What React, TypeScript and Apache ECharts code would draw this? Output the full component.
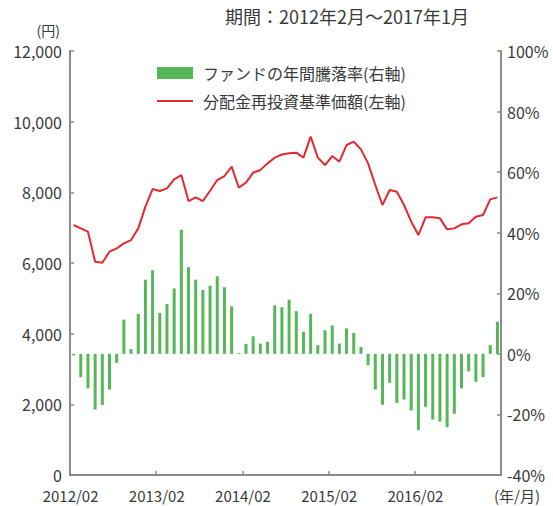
import React, { useEffect, useRef } from "react";
import * as echarts from "echarts";

const months: string[] = [
  "2012/02","2012/03","2012/04","2012/05","2012/06","2012/07","2012/08","2012/09","2012/10","2012/11","2012/12","2013/01",
  "2013/02","2013/03","2013/04","2013/05","2013/06","2013/07","2013/08","2013/09","2013/10","2013/11","2013/12","2014/01",
  "2014/02","2014/03","2014/04","2014/05","2014/06","2014/07","2014/08","2014/09","2014/10","2014/11","2014/12","2015/01",
  "2015/02","2015/03","2015/04","2015/05","2015/06","2015/07","2015/08","2015/09","2015/10","2015/11","2015/12","2016/01",
  "2016/02","2016/03","2016/04","2016/05","2016/06","2016/07","2016/08","2016/09","2016/10","2016/11","2016/12","2017/01",
];

// ファンドの年間騰落率 (%), right axis
const annualReturn: number[] = [
  -0.5, -7.7, -11.4, -18.4, -16.9, -11.8, -3.0, 11.3, 1.6, 13.2, 24.5, 27.6,
  13.5, 16.5, 21.6, 41.0, 28.6, 24.5, 21.1, 22.5, 25.6, 22.0, 15.7, 0.3,
  3.3, 5.8, 3.4, 4.0, 16.0, 15.4, 17.9, 14.1, 7.3, 13.2, 2.9, 7.8,
  9.4, 3.4, 8.4, 6.9, 2.3, -3.7, -11.8, -16.8, -9.6, -16.2, -15.1, -18.7,
  -25.2, -17.5, -21.7, -22.4, -24.2, -19.8, -11.4, -5.8, -9.2, -7.7, 2.9, 10.6,
];

// 分配金再投資基準価額 (円), left axis
const navReinvested: number[] = [
  7075, 6980, 6886, 6037, 6008, 6320, 6415, 6556, 6650, 6980, 7594, 8094,
  8037, 8113, 8368, 8490, 7754, 7858, 7754, 8046, 8349, 8462, 8726, 8132,
  8273, 8556, 8632, 8820, 8981, 9070, 9103, 9122, 8981, 9575, 8981, 8773,
  9028, 8867, 9339, 9433, 9216, 8820, 8207, 7641, 8066, 8018, 7641, 7169,
  6792, 7292, 7292, 7264, 6952, 6980, 7094, 7123, 7311, 7358, 7801, 7858,
];

const barName = "ファンドの年間騰落率(右軸)";
const lineName = "分配金再投資基準価額(左軸)";
const titleText = "期間：2012年2月～2017年1月";
const xUnit = "(年/月)";
const yUnit = "(円)";

const FONT = "'Noto Sans CJK JP', 'Noto Sans', sans-serif";
const AXIS_COLOR = "#8c8c8c";
const TEXT_COLOR = "#3a3a3a";

export default function App() {
  const ref = useRef<HTMLDivElement>(null);
  useEffect(() => {
    if (!ref.current) return;
    const chart = echarts.init(ref.current, undefined, { renderer: "svg" });
    chart.setOption({
      animation: false,
      backgroundColor: "#ffffff",
      textStyle: { fontFamily: FONT },
      title: {
        text: titleText,
        left: 225,
        top: 7,
        padding: 0,
        textStyle: { fontFamily: FONT, fontSize: 18, fontWeight: "normal", color: TEXT_COLOR },
      },
      legend: {
        orient: "vertical",
        left: 157,
        top: 65,
        padding: 0,
        itemWidth: 36,
        itemHeight: 12,
        itemGap: 12,
        textStyle: { fontFamily: FONT, fontSize: 16, color: TEXT_COLOR, padding: [0, 0, 0, 5] },
        data: [
          { name: barName, icon: "rect" },
          { name: lineName, icon: "path://M0,0 L36,0 L36,2.2 L0,2.2 Z" },
        ],
      },
      graphic: [
        {
          type: "text",
          left: 494,
          top: 488,
          style: { text: xUnit, fontFamily: FONT, fontSize: 15, lineHeight: 15, fill: TEXT_COLOR },
        },
      ],
      grid: { left: 70, right: 52, top: 51, bottom: 31, containLabel: false },
      xAxis: {
        type: "category",
        data: months,
        boundaryGap: true,
        axisLine: { lineStyle: { color: AXIS_COLOR, width: 2 } },
        axisTick: {
          show: true, inside: true, length: 4,
          interval: (i: number) => i % 12 === 0,
          lineStyle: { color: AXIS_COLOR, width: 1.5 },
        },
        axisLabel: {
          interval: (i: number) => i % 12 === 0,
          fontFamily: FONT, fontSize: 15, lineHeight: 15, color: TEXT_COLOR, margin: 13,
          padding: [0, 6, 0, 0],
        },
        splitLine: { show: false },
      },
      yAxis: [
        {
          type: "value",
          min: 0, max: 12000, interval: 2000,
          position: "left",
          name: yUnit,
          nameLocation: "end",
          nameGap: 21,
          nameTextStyle: {
            fontFamily: FONT, fontSize: 14, color: TEXT_COLOR,
            align: "right", verticalAlign: "middle", padding: [0, 10, 0, 0],
          },
          axisLine: { show: true, lineStyle: { color: AXIS_COLOR, width: 2 } },
          axisTick: { show: true, inside: true, length: 4, lineStyle: { color: AXIS_COLOR, width: 1.5 } },
          axisLabel: { fontFamily: FONT, fontSize: 16, lineHeight: 16, color: TEXT_COLOR, margin: 8 },
          splitLine: { show: false },
        },
        {
          type: "value",
          min: -40, max: 100, interval: 20,
          position: "right",
          axisLine: { show: true, lineStyle: { color: AXIS_COLOR, width: 2 } },
          axisTick: { show: true, inside: true, length: 4, lineStyle: { color: AXIS_COLOR, width: 1.5 } },
          axisLabel: { fontFamily: FONT, fontSize: 16, lineHeight: 16, color: TEXT_COLOR, margin: 6, formatter: "{value}%" },
          splitLine: { show: false },
        },
      ],
      series: [
        {
          name: barName,
          type: "bar",
          yAxisIndex: 1,
          data: annualReturn,
          barWidth: 3,
          itemStyle: { color: "#55b757" },
        },
        {
          name: lineName,
          type: "line",
          yAxisIndex: 0,
          data: navReinvested,
          symbol: "none",
          lineStyle: { color: "#e42a31", width: 2 },
          itemStyle: { color: "#e42a31" },
        },
      ],
    });
    return () => chart.dispose();
  }, []);
  return (
    <div
      ref={ref}
      style={{ position: "fixed", left: 0, top: 0, width: 553, height: 506, background: "#fff" }}
    />
  );
}
